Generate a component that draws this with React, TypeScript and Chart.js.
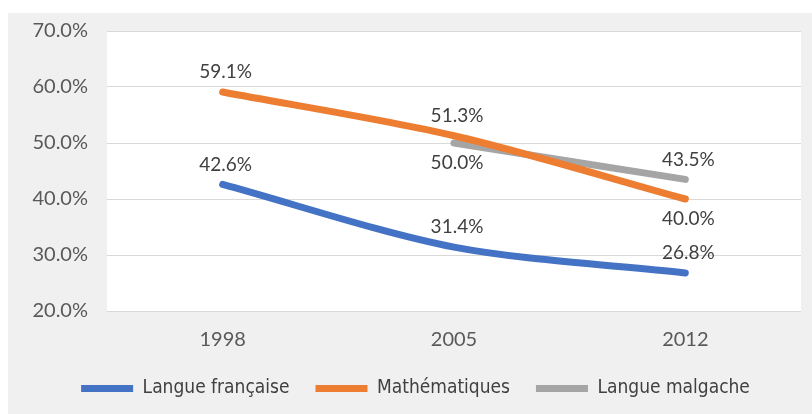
import React, { useEffect, useRef } from "react";
import { Chart, registerables } from "chart.js";

Chart.register(...registerables);

const categories = ["1998", "2005", "2012"];
const francais = [42.6, 31.4, 26.8];
const maths = [59.1, 51.3, 40.0];
const malgache: (number | null)[] = [null, 50.0, 43.5];
// label placement: 1 = above, -1 = below
const francaisPos = [1, 1, 1];
const mathsPos = [1, 1, -1];
const malgachePos = [1, -1, 1];
const yTicks = [20, 30, 40, 50, 60, 70];

const seriesNames = ["Langue française", "Mathématiques", "Langue malgache"];
const colors = ["#4472C4", "#ED7D31", "#A5A5A5"];

const TICK_FONT = "Lato, 'Open Sans', sans-serif";
const LEGEND_FONT = "'DejaVu Sans Condensed', 'Liberation Sans Narrow', sans-serif";

const plotBg = {
  id: "plotBg",
  beforeDraw(chart: any) {
    const { ctx, chartArea } = chart;
    ctx.save();
    ctx.fillStyle = "#ffffff";
    ctx.fillRect(chartArea.left, chartArea.top, chartArea.right - chartArea.left, chartArea.bottom - chartArea.top);
    ctx.restore();
  },
};

const dataLabels = {
  id: "dataLabels",
  afterDatasetsDraw(chart: any) {
    const { ctx } = chart;
    const positions = [francaisPos, mathsPos, malgachePos];
    ctx.save();
    ctx.font = `19px ${TICK_FONT}`;
    ctx.fillStyle = "#404040";
    ctx.textAlign = "center";
    ctx.textBaseline = "middle";
    chart.data.datasets.forEach((ds: any, i: number) => {
      const meta = chart.getDatasetMeta(i);
      meta.data.forEach((pt: any, j: number) => {
        const v = ds.data[j];
        if (v === null || v === undefined) return;
        const dir = positions[i][j];
        ctx.fillText(v.toFixed(1) + "%", pt.x + 3, pt.y - dir * 20);
      });
    });
    ctx.restore();
  },
};

export default function App() {
  const ref = useRef<HTMLCanvasElement>(null);
  useEffect(() => {
    if (!ref.current) return;
    const mk = (label: string, data: (number | null)[], color: string) => ({
      label,
      data,
      borderColor: color,
      backgroundColor: color,
      borderWidth: 7,
      borderCapStyle: "round" as const,
      borderJoinStyle: "round" as const,
      pointRadius: 0,
      pointHoverRadius: 0,
      tension: 0.3,
      fill: false,
    });
    const chart = new Chart(ref.current, {
      type: "line",
      data: {
        labels: categories,
        datasets: [
          mk(seriesNames[0], francais, colors[0]),
          mk(seriesNames[1], maths, colors[1]),
          mk(seriesNames[2], malgache, colors[2]),
        ],
      },
      options: {
        animation: false,
        responsive: false,
        maintainAspectRatio: false,
        events: [],
        layout: { padding: { left: 22, right: 11, top: 18, bottom: 6 } },
        plugins: {
          tooltip: { enabled: false },
          legend: {
            position: "bottom",
            labels: {
              boxWidth: 52,
              boxHeight: 7,
              useBorderRadius: true,
              borderRadius: 3.5,
              padding: 26,
              color: "#404040",
              font: { family: LEGEND_FONT, size: 19 },
              generateLabels: (c: any) =>
                c.data.datasets.map((ds: any, i: number) => ({
                  text: ds.label,
                  fillStyle: ds.borderColor,
                  strokeStyle: ds.borderColor,
                  lineWidth: 0,
                  hidden: false,
                  datasetIndex: i,
                  fontColor: "#404040",
                })),
            },
          },
        },
        scales: {
          x: {
            offset: true,
            grid: { display: false, drawTicks: false },
            border: { display: false },
            ticks: { color: "#595959", font: { family: TICK_FONT, size: 20 }, padding: 17 },
            afterFit: (s: any) => {
              s.height = 42;
            },
          },
          y: {
            min: 20,
            max: 70,
            afterBuildTicks: (s: any) => {
              s.ticks = yTicks.map((v) => ({ value: v }));
            },
            grid: { color: "#d9d9d9", lineWidth: 1, drawTicks: true, tickLength: 19, tickColor: "rgba(0,0,0,0)" },
            border: { display: false },
            ticks: {
              color: "#595959",
              font: { family: TICK_FONT, size: 20 },
              padding: 0,
              callback: (v: any) => Number(v).toFixed(1) + "%",
            },
            afterFit: (s: any) => {
              s.width = 77;
            },
          },
        },
      },
      plugins: [plotBg, dataLabels],
    });
    return () => chart.destroy();
  }, []);
  return (
    <div
      style={{
        position: "absolute",
        left: 8,
        top: 13,
        width: 804,
        height: 401,
        background: "#f0f0f0",
      }}
    >
      <canvas ref={ref} width={804} height={401} style={{ display: "block" }} />
    </div>
  );
}
